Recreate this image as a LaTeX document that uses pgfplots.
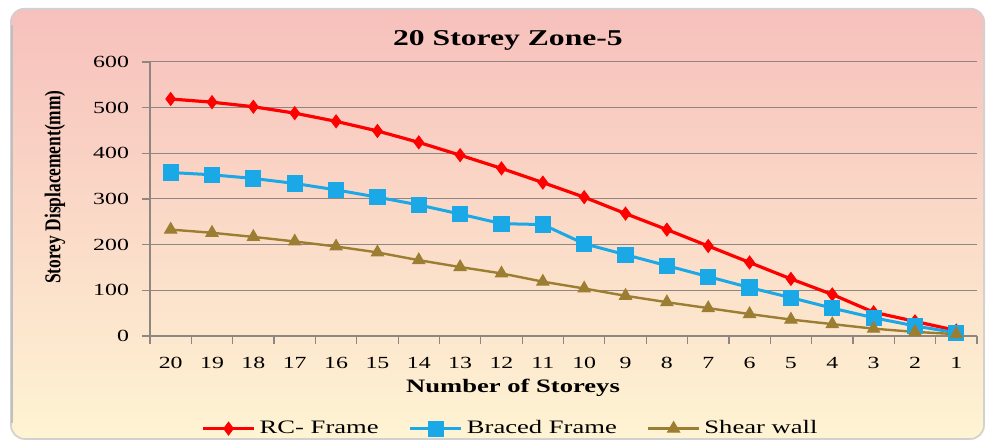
\documentclass[border=0pt]{standalone}
\usepackage{pgfplots}
\pgfplotsset{compat=1.18}
\usepackage{fontspec}
\setmainfont{Liberation Serif}

\definecolor{bgtop}{HTML}{F7C0BC}
\definecolor{bgmid}{HTML}{FBD5C3}
\definecolor{bgbot}{HTML}{FEF4D3}
\definecolor{rcred}{HTML}{FF0000}
\definecolor{brblue}{HTML}{1BA8E6}
\definecolor{swbrown}{HTML}{9C7E33}
\definecolor{gridgray}{HTML}{8E8680}

% the reference is stretched sideways
\newcommand{\wide}[1]{\scalebox{1.4}[1]{#1}}

\begin{document}
\begin{tikzpicture}
  \useasboundingbox (0,0) rectangle (493.5pt,221.5pt);
  % chart area background
  \shade[rounded corners=7pt, top color=bgtop, middle color=bgmid, bottom color=bgbot]
    (5pt,1.5pt) rectangle (492.5pt,217.5pt);
  \draw[rounded corners=7pt, draw=black!18, line width=0.8pt]
    (5.5pt,2pt) rectangle (492pt,217pt);
  \draw[draw=black!25, line width=1pt] (5.8pt,10pt) -- (5.8pt,209pt);

  \begin{axis}[
    at={(75pt,53.5pt)}, anchor=south west,
    scale only axis,
    width=413.5pt, height=137pt,
    xmin=-0.5, xmax=19.5,
    ymin=0, ymax=600,
    ytick={0,100,...,600},
    xtick={0,...,19},
    xticklabels={\wide{20},\wide{19},\wide{18},\wide{17},\wide{16},\wide{15},\wide{14},
      \wide{13},\wide{12},\wide{11},\wide{10},\wide{9},\wide{8},\wide{7},\wide{6},
      \wide{5},\wide{4},\wide{3},\wide{2},\wide{1}},
    yticklabel={\wide{\pgfmathprintnumber{\tick}}},
    minor xtick={-0.5,0.5,...,19.5},
    axis x line*=bottom,
    axis y line*=left,
    axis line style={gridgray, line width=0.6pt, -},
    ymajorgrids,
    grid style={gridgray, line width=0.5pt},
    tick align=outside,
    major tick length=4pt,
    minor tick length=4pt,
    major x tick style={draw=none},
    minor x tick style={gridgray, line width=0.6pt},
    y tick style={gridgray, line width=0.6pt},
    tick label style={font=\fontsize{8.5}{10}\selectfont},
    xticklabel style={yshift=-3pt},
    yticklabel style={xshift=-3pt},
    /pgf/number format/assume math mode=true,
    legend columns=3,
    legend style={at={(0.437,-0.338)}, anchor=center, draw=none, fill=none,
      font=\fontsize{9.5}{11}\selectfont,
      /tikz/every even column/.append style={column sep=13pt}},
    legend image code/.code={
      \draw[mark repeat=2, mark phase=2] plot coordinates {(0cm,0cm) (0.45cm,0cm) (0.9cm,0cm)};
    },
  ]
  \addplot[rcred, line width=1.6pt, mark=diamond*, mark size=3.2pt, mark options={fill=rcred, line width=0.5pt}]
  coordinates {
    (0,519) (1,512) (2,502) (3,488) (4,470) (5,449) (6,424) (7,396) (8,367) (9,336)
    (10,304) (11,268) (12,233) (13,197) (14,161) (15,125) (16,91) (17,52) (18,32) (19,12)
  };
  \addlegendentry{\wide{RC- Frame}}
  \addplot[brblue, line width=1.5pt, mark=square*, mark size=3.8pt, mark options={fill=brblue, line width=0.5pt}]
  coordinates {
    (0,358) (1,353) (2,345) (3,334) (4,320) (5,304) (6,287) (7,267) (8,246) (9,244)
    (10,202) (11,178) (12,154) (13,130) (14,106) (15,84) (16,61) (17,40) (18,22) (19,7)
  };
  \addlegendentry{\wide{Braced Frame}}
  \addplot[swbrown, line width=1.2pt, mark=triangle*, mark size=3.5pt, mark options={fill=swbrown, line width=0.5pt}]
  coordinates {
    (0,233) (1,226) (2,217) (3,207) (4,196) (5,183) (6,166) (7,151) (8,137) (9,119)
    (10,104) (11,88) (12,74) (13,61) (14,48) (15,36) (16,26) (17,16) (18,9) (19,4)
  };
  \addlegendentry{\wide{Shear wall}}
  \end{axis}

  \node[font=\bfseries\fontsize{11.3}{13}\selectfont] at (254pt,201.5pt) {\wide{20 Storey Zone-5}};
  \node[font=\bfseries\fontsize{9.5}{11}\selectfont] at (256.5pt,27.5pt) {\wide{Number of Storeys}};
  \node[rotate=90, font=\bfseries\fontsize{8.7}{10}\selectfont] at (27.5pt,128pt)
    {\scalebox{1}[1.3]{Storey Displacement(mm)}};
\end{tikzpicture}
\end{document}
